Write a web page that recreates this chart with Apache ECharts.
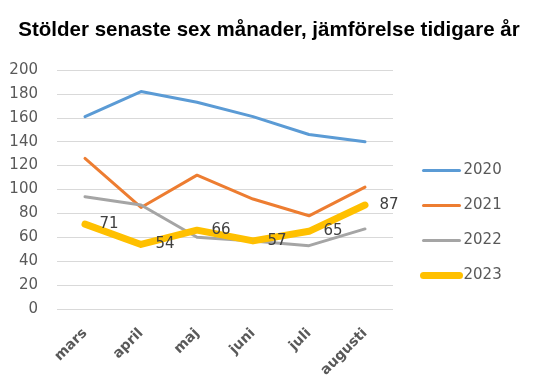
<!DOCTYPE html>
<html><head><meta charset="utf-8">
<script src="https://cdn.jsdelivr.net/npm/echarts@6/dist/echarts.min.js"></script>
<style>html,body{margin:0;padding:0;background:#fff}#c{width:557px;height:381px}</style>
</head><body><div id="c"></div>
<script>
const categories = ['mars','april','maj','juni','juli','augusti'];
const s2020 = [161, 182, 173, 161, 146, 140];
const s2021 = [126, 85, 112, 92, 78, 102];
const s2022 = [94, 87, 60, 57, 53, 67];
const s2023 = [71, 54, 66, 57, 65, 87];
const yTicks = {min: 0, max: 200, interval: 20};

const chart = echarts.init(document.getElementById('c'));
const tfont = '"Liberation Sans", Arial, sans-serif';
const font = '"DejaVu Sans", sans-serif';
function line(name, data, color, width, labels){
  return {
    name, type:'line', data, symbol:'circle', symbolSize:1, showSymbol:true, smooth:false,
    lineStyle:{color, width, cap:'round', join:'round'}, itemStyle:{color},
    label: labels ? {show:true, position:'right', distance:14, offset:[0,2], color:'#404040', fontSize:15, fontFamily:font} : {show:false},
    labelLayout:{hideOverlap:false},
    emphasis:{disabled:true}
  };
}
chart.setOption({
  animation:false,
  title:{text:'Stölder senaste sex månader, jämförelse tidigare år', left:264, textAlign:'center', top:15,
    textStyle:{fontFamily:tfont, fontWeight:'bold', fontSize:20.5, color:'#000'}},
  grid:{left:57, right:164, top:70, bottom:72, containLabel:false},
  legend:{orient:'vertical', left:420, top:163, padding:0, itemWidth:36, itemHeight:14, itemGap:20,
    itemStyle:{opacity:0},
    textStyle:{fontFamily:font, fontSize:15, color:'#595959', padding:[0,0,0,-1]},
    data:[
      {name:'2020', lineStyle:{width:3}},
      {name:'2021', lineStyle:{width:3}},
      {name:'2022', lineStyle:{width:3}},
      {name:'2023', lineStyle:{width:7}}
    ]},
  xAxis:{type:'category', data:categories, boundaryGap:true,
    axisLine:{show:false}, axisTick:{show:false},
    axisLabel:{rotate:45, color:'#595959', fontSize:14, fontWeight:'bold', fontFamily:font, margin:22}},
  yAxis:{type:'value', min:yTicks.min, max:yTicks.max, interval:yTicks.interval,
    axisLine:{show:false}, axisTick:{show:false},
    splitLine:{lineStyle:{color:'#d9d9d9', width:1}},
    axisLabel:{color:'#595959', fontSize:15, fontFamily:font, margin:19}},
  series:[
    line('2020', s2020, '#5B9BD5', 3, false),
    line('2021', s2021, '#ED7D31', 3, false),
    line('2022', s2022, '#A5A5A5', 3, false),
    line('2023', s2023, '#FFC000', 7, true)
  ]
});
</script></body></html>
